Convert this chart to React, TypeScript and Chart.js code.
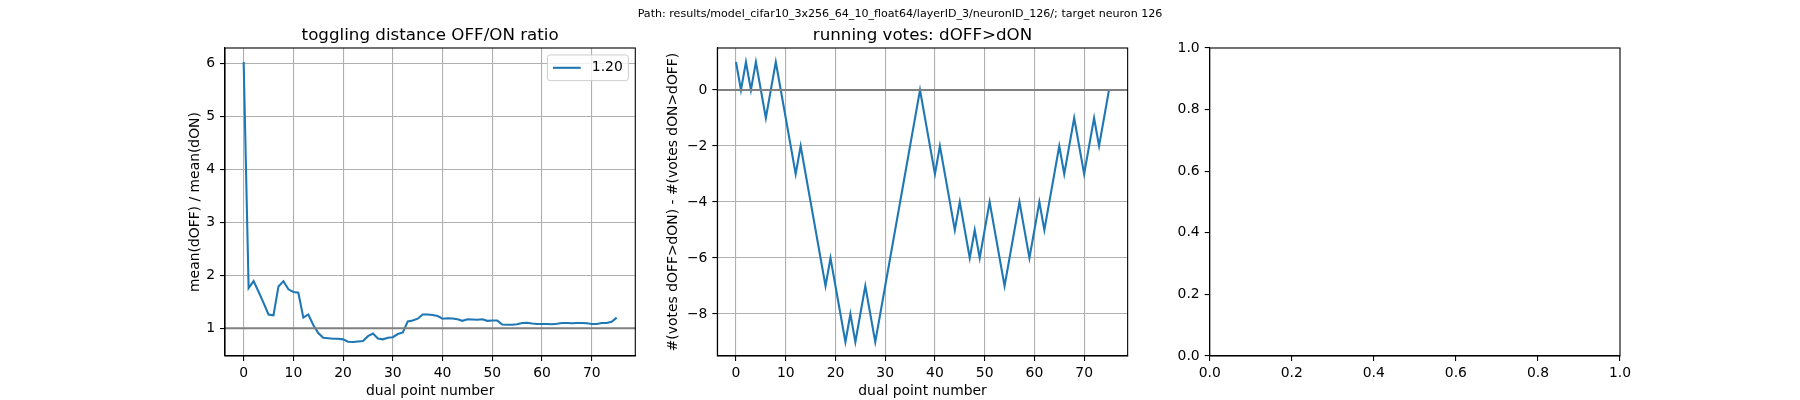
import React, { useEffect, useRef } from "react";
import { Chart, registerables } from "chart.js";

Chart.register(...registerables);

// ---------------- data ----------------
const suptitleText =
  "Path: results/model_cifar10_3x256_64_10_float64/layerID_3/neuronID_126/; target neuron 126";

const ratioTitle = "toggling distance OFF/ON ratio";
const votesTitle = "running votes: dOFF>dON";
const xAxisLabel = "dual point number";
const ratioYLabel = "mean(dOFF) / mean(dON)";
const votesYLabel = "#(votes dOFF>dON) - #(votes dON>dOFF)";

// OFF/ON distance ratio per dual point (0..75)
const ratio = [
  6.03, 1.76, 1.89, 1.69, 1.48, 1.26, 1.245, 1.79, 1.89, 1.735,
  1.685, 1.67, 1.2, 1.26, 1.06, 0.91, 0.82, 0.81, 0.8, 0.8,
  0.79, 0.745, 0.74, 0.75, 0.76, 0.85, 0.9, 0.805, 0.79, 0.82,
  0.83, 0.89, 0.92, 1.13, 1.145, 1.18, 1.26, 1.26, 1.25, 1.23,
  1.18, 1.19, 1.185, 1.17, 1.14, 1.17, 1.165, 1.16, 1.17, 1.14,
  1.145, 1.145, 1.07, 1.065, 1.065, 1.075, 1.1, 1.105, 1.09, 1.08,
  1.08, 1.08, 1.075, 1.085, 1.1, 1.1, 1.095, 1.1, 1.1, 1.095,
  1.08, 1.08, 1.1, 1.1, 1.12, 1.2,
];

// running votes per dual point (0..75)
const votes = [
  1, 0, 1, 0, 1, 0, -1, 0, 1, 0,
  -1, -2, -3, -2, -3, -4, -5, -6, -7, -6,
  -7, -8, -9, -8, -9, -8, -7, -8, -9, -8,
  -7, -6, -5, -4, -3, -2, -1, 0, -1, -2,
  -3, -2, -3, -4, -5, -4, -5, -6, -5, -6,
  -5, -4, -5, -6, -7, -6, -5, -4, -5, -6,
  -5, -4, -5, -4, -3, -2, -3, -2, -1, -2,
  -3, -2, -1, -2, -1, 0,
];

const pointNumbers = ratio.map((_, i) => i);

const ratioRefLine = 1;
const votesRefLine = 0;

const xTicks = [0, 10, 20, 30, 40, 50, 60, 70];
const ratioYTicks = [1, 2, 3, 4, 5, 6];
const votesYTicks = [-8, -6, -4, -2, 0];
const emptyTicks = [0, 0.2, 0.4, 0.6, 0.8, 1.0];

// ---------------- style ----------------
const FONT = "'DejaVu Sans', sans-serif";
const TICK_PX = 13.9;
const TITLE_PX = 16.7;
const SUP_PX = 11.1;
const LINE_PX = 2.08;
const THIN_PX = 1.1;
const BLUE = "#1f77b4";
const GRID_COLOR = "#b0b0b0";
const REF_COLOR = "#808080";

const FIG = { w: 1800, h: 400, left: 225, right: 1620, top: 48, bottom: 356, wspace: 0.2 };
const X_AXIS_H = 44;

function axesBox(i: number) {
  const w = (FIG.right - FIG.left) / (3 + 2 * FIG.wspace);
  const gap = w * FIG.wspace;
  const l = FIG.left + i * (w + gap);
  return { l, r: l + w };
}

const fmtInt = (v: number) => (v < 0 ? "\u2212" + Math.abs(v) : String(v));
const fmt1 = (v: number) => v.toFixed(1);

function padRange(vals: number[]) {
  const lo = Math.min(...vals);
  const hi = Math.max(...vals);
  const m = (hi - lo) * 0.05;
  return { min: lo - m, max: hi + m };
}

const decorPlugin = {
  id: "decor",
  afterDatasetsDraw(chart: any, _args: any, opts: any) {
    const { ctx, chartArea: a } = chart;
    ctx.save();
    if (opts.refLine !== undefined && opts.refLine !== null) {
      const y = chart.scales.y.getPixelForValue(opts.refLine);
      ctx.strokeStyle = REF_COLOR;
      ctx.lineWidth = LINE_PX;
      ctx.beginPath();
      ctx.moveTo(a.left, y);
      ctx.lineTo(a.right, y);
      ctx.stroke();
    }
    ctx.strokeStyle = "#000";
    ctx.lineWidth = THIN_PX;
    ctx.strokeRect(a.left, a.top, a.right - a.left, a.bottom - a.top);
    ctx.restore();
  },
  afterDraw(chart: any, _args: any, opts: any) {
    const { ctx, chartArea: a } = chart;
    ctx.save();
    if (opts.title) {
      ctx.font = `${TITLE_PX}px ${FONT}`;
      ctx.fillStyle = "#000";
      ctx.textAlign = "center";
      ctx.textBaseline = "alphabetic";
      ctx.fillText(opts.title, (a.left + a.right) / 2, a.top - 8.33);
    }
    if (opts.suptitle) {
      ctx.font = `${SUP_PX}px ${FONT}`;
      ctx.fillStyle = "#000";
      ctx.textAlign = "center";
      ctx.textBaseline = "alphabetic";
      ctx.fillText(opts.suptitle, chart.width / 2, 17);
    }
    if (opts.legend) {
      const ds = chart.data.datasets.filter((d: any) => d.label);
      if (ds.length) {
        ctx.font = `${TICK_PX}px ${FONT}`;
        const pad = 0.4 * TICK_PX;
        const handle = 2 * TICK_PX;
        const gapT = 0.8 * TICK_PX;
        const border = 0.5 * TICK_PX;
        const label = ds[0].label;
        const tw = ctx.measureText(label).width;
        const w = pad + handle + gapT + tw + pad;
        const h = 2 * pad + 1.05 * TICK_PX;
        const x0 = a.right - border - w;
        const y0 = a.top + border;
        ctx.beginPath();
        if (ctx.roundRect) ctx.roundRect(x0, y0, w, h, 2.8);
        else ctx.rect(x0, y0, w, h);
        ctx.fillStyle = "rgba(255,255,255,0.8)";
        ctx.fill();
        ctx.strokeStyle = "#cccccc";
        ctx.lineWidth = 1;
        ctx.stroke();
        const cy = y0 + h / 2;
        ctx.strokeStyle = ds[0].borderColor;
        ctx.lineWidth = LINE_PX;
        ctx.beginPath();
        ctx.moveTo(x0 + pad, cy);
        ctx.lineTo(x0 + pad + handle, cy);
        ctx.stroke();
        ctx.fillStyle = "#000";
        ctx.textAlign = "left";
        ctx.textBaseline = "middle";
        ctx.fillText(label, x0 + pad + handle + gapT, cy);
      }
    }
    ctx.restore();
  },
};

interface Panel {
  index: number;
  series?: number[];
  label?: string;
  xRange: { min: number; max: number };
  yRange: { min: number; max: number };
  xTicks: number[];
  yTicks: number[];
  xFmt: (v: number) => string;
  yFmt: (v: number) => string;
  xTitle?: string;
  yTitle?: string;
  yTitleX?: number;
  grid: boolean;
  title?: string;
  refLine?: number;
  legend?: boolean;
  suptitle?: string;
}

function buildConfig(p: Panel): any {
  const { l, r } = axesBox(p.index);
  const yW = p.yTitle && p.yTitleX ? l - (p.yTitleX - (TICK_PX * 1.2) / 2) : 40;
  const tickFont = { family: FONT, size: TICK_PX };
  const gridOpts = {
    display: true,
    drawOnChartArea: p.grid,
    color: GRID_COLOR,
    lineWidth: THIN_PX,
    drawTicks: true,
    tickLength: 5,
    tickColor: "#000",
    tickWidth: THIN_PX,
  };
  const borderOpts = { display: true, color: "#000", width: THIN_PX };
  return {
    type: "line",
    data: {
      datasets: p.series
        ? [
            {
              label: p.label,
              data: p.series.map((v, i) => ({ x: pointNumbers[i], y: v })),
              borderColor: BLUE,
              backgroundColor: BLUE,
              borderWidth: LINE_PX,
              pointRadius: 0,
              tension: 0,
              fill: false,
            },
          ]
        : [],
    },
    options: {
      animation: false,
      responsive: false,
      devicePixelRatio: 1,
      events: [],
      layout: {
        padding: {
          left: l - yW,
          right: FIG.w - r,
          top: FIG.top,
          bottom: FIG.h - FIG.bottom - X_AXIS_H,
        },
      },
      plugins: {
        legend: { display: false },
        tooltip: { enabled: false },
        title: { display: false },
        decor: {
          title: p.title,
          refLine: p.refLine,
          legend: !!p.legend,
          suptitle: p.suptitle,
        },
      },
      scales: {
        x: {
          type: "linear",
          position: "bottom",
          min: p.xRange.min,
          max: p.xRange.max,
          bounds: "data",
          afterBuildTicks: (s: any) => {
            s.ticks = p.xTicks.map((v) => ({ value: v }));
          },
          afterFit: (s: any) => {
            s.height = X_AXIS_H;
          },
          ticks: {
            callback: (v: any) => p.xFmt(Number(v)),
            color: "#000",
            font: tickFont,
            padding: 4,
            maxRotation: 0,
            minRotation: 0,
            autoSkip: false,
          },
          grid: gridOpts,
          border: borderOpts,
          title: {
            display: !!p.xTitle,
            text: p.xTitle || "",
            color: "#000",
            font: tickFont,
            padding: 0,
          },
        },
        y: {
          type: "linear",
          position: "left",
          min: p.yRange.min,
          max: p.yRange.max,
          bounds: "data",
          afterBuildTicks: (s: any) => {
            s.ticks = p.yTicks.map((v) => ({ value: v }));
          },
          afterFit: (s: any) => {
            s.width = yW;
          },
          ticks: {
            callback: (v: any) => p.yFmt(Number(v)),
            color: "#000",
            font: tickFont,
            padding: 5,
            autoSkip: false,
          },
          grid: gridOpts,
          border: borderOpts,
          title: {
            display: !!p.yTitle,
            text: p.yTitle || "",
            color: "#000",
            font: tickFont,
            padding: 0,
          },
        },
      },
    },
    plugins: [decorPlugin],
  };
}

const xRangeData = padRange(pointNumbers);

const panels: Panel[] = [
  {
    index: 0,
    series: ratio,
    label: ratio[ratio.length - 1].toFixed(2),
    xRange: xRangeData,
    yRange: padRange(ratio),
    xTicks,
    yTicks: ratioYTicks,
    xFmt: fmtInt,
    yFmt: fmtInt,
    xTitle: xAxisLabel,
    yTitle: ratioYLabel,
    yTitleX: 195,
    grid: true,
    title: ratioTitle,
    refLine: ratioRefLine,
    legend: true,
    suptitle: suptitleText,
  },
  {
    index: 1,
    series: votes,
    xRange: xRangeData,
    yRange: padRange(votes),
    xTicks,
    yTicks: votesYTicks,
    xFmt: fmtInt,
    yFmt: fmtInt,
    xTitle: xAxisLabel,
    yTitle: votesYLabel,
    yTitleX: 673.3,
    grid: true,
    title: votesTitle,
    refLine: votesRefLine,
  },
  {
    index: 2,
    xRange: { min: 0, max: 1 },
    yRange: { min: 0, max: 1 },
    xTicks: emptyTicks,
    yTicks: emptyTicks,
    xFmt: fmt1,
    yFmt: fmt1,
    grid: false,
  },
];

export default function App() {
  const r0 = useRef<HTMLCanvasElement>(null);
  const r1 = useRef<HTMLCanvasElement>(null);
  const r2 = useRef<HTMLCanvasElement>(null);
  const refs = [r0, r1, r2];

  useEffect(() => {
    const charts = refs.map((r, i) => new Chart(r.current as HTMLCanvasElement, buildConfig(panels[i])));
    return () => charts.forEach((c) => c.destroy());
  }, []);

  return (
    <div
      style={{
        position: "absolute",
        left: 0,
        top: 0,
        width: FIG.w,
        height: FIG.h,
        background: "#fff",
        overflow: "hidden",
      }}
    >
      {refs.map((r, i) => (
        <canvas
          key={i}
          ref={r}
          width={FIG.w}
          height={FIG.h}
          style={{ position: "absolute", left: 0, top: 0, width: FIG.w, height: FIG.h }}
        />
      ))}
    </div>
  );
}
